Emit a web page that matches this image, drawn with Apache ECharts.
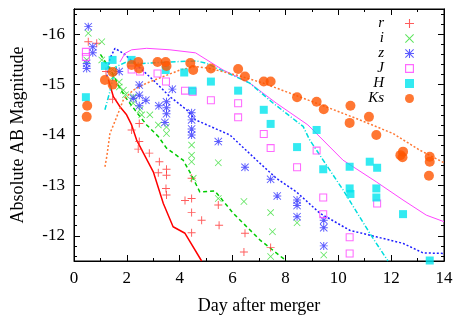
<!DOCTYPE html>
<html>
<head>
<meta charset="utf-8">
<script src="https://cdn.jsdelivr.net/npm/echarts@6/dist/echarts.min.js"></script>
<style>
  html, body { margin: 0; padding: 0; background: #fff; }
  #chart { width: 458px; height: 321px; }
</style>
</head>
<body>
<div id="chart"></div>
<script>
// observed points [day, mag]
const rPts = [[0.54,-15.85],[0.86,-15.82],[1.21,-15.26],[1.46,-14.71],[2.18,-14.1],[2.47,-14.23],[2.47,-13.87],[2.43,-13.72],[2.85,-13.64],[3.19,-13.25],[3.23,-13.47],[3.5,-13.32],[3.5,-13.2],[3.48,-12.94],[3.5,-12.81],[4.2,-12.7],[4.45,-13.14],[4.45,-12.74],[4.45,-12.46],[4.45,-12.06],[4.83,-12.31],[5.46,-12.61],[5.49,-12.21],[6.47,-12.05],[6.43,-11.68],[7.44,-11.77]];
const iPts = [[0.54,-16.02],[0.48,-15.49],[1.05,-15.85],[1.05,-15.49],[1.46,-15.3],[1.49,-15.16],[1.71,-15.05],[1.71,-14.95],[1.87,-14.89],[1.95,-14.8],[2.24,-14.76],[2.24,-14.63],[2.5,-14.5],[2.56,-14.4],[2.87,-14.4],[3.19,-14.2],[3.5,-14.16],[3.5,-14.03],[4.45,-13.8],[4.45,-13.6],[4.45,-13.47],[4.51,-13.14],[5.46,-13.45],[5.46,-12.74],[6.43,-12.68],[7.44,-12.46],[7.51,-12.08],[7.44,-11.59],[8.44,-12.26],[9.45,-11.62]];
const zPts = [[0.54,-16.15],[0.48,-15.42],[0.48,-15.32],[0.71,-15.75],[0.71,-15.63],[1.71,-15.26],[2.47,-14.99],[2.47,-14.79],[2.24,-14.73],[2.72,-14.69],[2.47,-14.58],[3.21,-14.58],[3.5,-14.66],[3.5,-14.54],[3.5,-14.42],[3.72,-14.91],[3.44,-14.25],[4.45,-14.44],[4.45,-14.3],[4.45,-14.12],[4.45,-14.0],[5.46,-13.87],[6.47,-13.36],[7.44,-13.12],[7.69,-12.79],[8.44,-12.71],[8.44,-12.6],[8.44,-12.38],[9.45,-12.31],[9.45,-12.16],[9.45,-11.8]];
const jPts = [[0.45,-15.65],[0.45,-15.55],[2.18,-15.3],[2.5,-15.26],[3.16,-15.22],[3.48,-15.06],[4.2,-14.88],[4.49,-14.86],[5.18,-14.69],[6.21,-14.63],[6.21,-14.35],[7.18,-14.02],[7.44,-13.74],[8.44,-13.36],[9.18,-13.69],[9.43,-12.76],[9.43,-12.43],[10.43,-11.97],[10.43,-11.65],[11.47,-12.64]];
const hPts = [[0.45,-14.75],[1.17,-15.37],[1.46,-15.49],[2.18,-15.49],[3.47,-15.29],[4.17,-15.24],[4.48,-14.88],[5.18,-15.06],[6.21,-14.88],[7.18,-14.5],[7.44,-14.22],[8.44,-13.76],[9.18,-14.1],[9.43,-13.32],[10.43,-13.37],[11.19,-13.47],[11.47,-13.35],[10.43,-12.94],[10.46,-12.83],[11.44,-12.94],[11.44,-12.76],[12.45,-12.43],[13.46,-11.51]];
const ksPts = [[0.5,-14.58],[0.48,-14.36],[1.17,-15.09],[1.46,-15.25],[1.46,-15.0],[2.18,-15.39],[2.43,-15.45],[2.46,-15.32],[3.16,-15.45],[3.47,-15.45],[3.5,-15.37],[4.4,-15.43],[4.51,-15.29],[5.18,-15.32],[6.21,-15.31],[6.47,-15.16],[7.18,-15.06],[7.44,-15.06],[8.44,-14.75],[9.18,-14.66],[9.45,-14.51],[10.46,-14.58],[10.43,-14.24],[11.16,-14.36],[11.44,-14.0],[12.35,-13.6],[12.45,-13.67],[12.43,-13.56],[13.46,-13.57],[13.46,-13.47],[13.43,-13.19]];

// model curves [day, mag]
const rModel = [[1.3,-15.1],[1.49,-14.76],[1.74,-14.56],[1.99,-14.4],[2.18,-14.2],[2.37,-13.9],[3.0,-13.27],[3.38,-12.64],[3.75,-12.18],[4.2,-12.05],[4.83,-11.5]];
const iModel = [[1.0,-15.6],[1.42,-15.26],[1.68,-14.99],[1.93,-14.76],[2.37,-14.45],[2.75,-14.2],[3.19,-13.97],[3.5,-13.74],[4.13,-13.5],[4.45,-13.2],[4.76,-12.87],[5.33,-12.89],[6.02,-12.45],[7.03,-11.92],[8.04,-11.5]];
const zModel = [[1.24,-15.16],[1.36,-15.52],[1.55,-15.72],[1.87,-15.62],[2.37,-15.39],[3.0,-15.09],[3.63,-14.76],[4.26,-14.5],[4.6,-14.3],[5.9,-14.0],[6.91,-13.5],[7.66,-13.14],[8.42,-12.87],[9.3,-12.45],[10.43,-12.11],[11.44,-11.98],[12.45,-11.85],[13.21,-11.66],[14,-11.65]];
const jModel = [[1.74,-15.45],[1.93,-15.62],[2.18,-15.69],[2.75,-15.72],[3.63,-15.69],[4.6,-15.63],[5.64,-15.29],[6.65,-15.03],[7.66,-14.63],[8.85,-14.2],[10.18,-13.5],[11.44,-13.07],[12.45,-12.71],[13.33,-12.41],[14,-12.28]];
const hModel = [[1.17,-14.5],[1.34,-14.83],[1.49,-15.16],[1.61,-15.36],[1.99,-15.45],[2.62,-15.42],[3.63,-15.45],[4.64,-15.47],[5.02,-15.42],[6.65,-15.03],[7.54,-14.63],[8.67,-14.17],[8.92,-13.9],[10.18,-12.91],[11.19,-12.05],[11.88,-11.5]];
const ksModel = [[1.17,-13.37],[1.24,-13.57],[1.36,-14.03],[1.61,-14.35],[1.87,-14.7],[2.24,-14.89],[2.75,-15.03],[3.38,-15.16],[4.01,-15.29],[4.6,-15.36],[5.14,-15.32],[6.15,-15.19],[7.16,-15.03],[8.17,-14.83],[9.18,-14.63],[10.18,-14.43],[10.81,-14.3],[12.07,-14.03],[13.08,-13.7],[14,-13.45]];

// axis ticks
const yLabels = [-16, -15, -14, -13, -12];
const yMinor = [-16.4,-16.2,-15.8,-15.6,-15.4,-15.2,-14.8,-14.6,-14.4,-14.2,-13.8,-13.6,-13.4,-13.2,-12.8,-12.6,-12.4,-12.2,-11.8,-11.6];

const FONT = "'Liberation Serif', 'DejaVu Serif', serif";
const plusPath = 'path://M4.4,0H5.6V4.4H10V5.6H5.6V10H4.4V5.6H0V4.4H4.4Z';
const crossPath = 'path://M0.8,0L5,4.2L9.2,0L10,0.8L5.8,5L10,9.2L9.2,10L5,5.8L0.8,10L0,9.2L4.2,5L0,0.8Z';
const starPath = 'path://M4.4,0H5.6V4.4H10V5.6H5.6V10H4.4V5.6H0V4.4H4.4ZM0.8,0L5,4.2L9.2,0L10,0.8L5.8,5L10,9.2L9.2,10L5,5.8L0.8,10L0,9.2L4.2,5L0,0.8Z';
// hollow square: outer clockwise, inner counter-clockwise
const boxPath = 'path://M0,0H10V10H0ZM1.3,1.3V8.7H8.7V1.3Z';

const chart = echarts.init(document.getElementById('chart'));

const xBase = (pos, showLabel) => ({
  type: 'value', position: pos, min: 0, max: 14, interval: 2,
  axisLine: { onZero: false, lineStyle: { color: '#000', width: 1 } },
  axisTick: { show: true, inside: true, length: 6, lineStyle: { color: '#000' } },
  minorTick: { show: true, splitNumber: 2, length: 3, lineStyle: { color: '#000' } },
  splitLine: { show: false },
  axisLabel: { show: showLabel, color: '#000', fontFamily: FONT, fontSize: 17, margin: 9 }
});

const yBase = (pos, ticks, len, showLabel) => ({
  type: 'value', position: pos, inverse: true, min: -16.5, max: -11.5,
  axisLine: { show: true, onZero: false, lineStyle: { color: '#000', width: 1 } },
  axisTick: { show: true, inside: true, length: len, customValues: ticks, lineStyle: { color: '#000' } },
  splitLine: { show: false },
  axisLabel: { show: showLabel, customValues: ticks, color: '#000', fontFamily: FONT, fontSize: 17, margin: 9 }
});

const xMain = xBase('bottom', true);
xMain.name = 'Day after merger';
xMain.nameLocation = 'middle';
xMain.nameGap = 36;
xMain.nameTextStyle = { color: '#000', fontFamily: FONT, fontSize: 18 };

const yMain = yBase('left', yLabels, 6, true);
yMain.name = 'Absolute AB Magnitude';
yMain.nameLocation = 'middle';
yMain.nameGap = 47;
yMain.nameTextStyle = { color: '#000', fontFamily: FONT, fontSize: 18 };

const pointSeries = (name, data, symbol, size, color) => ({
  name, type: 'scatter', data, symbol, symbolSize: size,
  itemStyle: { color }, z: 3
});

const lineSeries = (data, color, type, width) => ({
  type: 'line', data, showSymbol: false, symbol: 'none', smooth: false, clip: true,
  lineStyle: { color, type, width }, z: 2
});

chart.setOption({
  animation: false,
  backgroundColor: '#fff',
  grid: { left: 74, right: 14, top: 9, bottom: 60, show: true, borderColor: '#000', borderWidth: 1 },
  legend: {
    orient: 'vertical', right: 39, top: 11, align: 'right',
    itemWidth: 9, itemHeight: 9, itemGap: 0,
    textStyle: { fontFamily: FONT, fontStyle: 'italic', fontSize: 15, lineHeight: 15, color: '#000', padding: [0, 16, 0, 0] },
    data: ['r', 'i', 'z', 'J', 'H', 'Ks']
  },
  xAxis: [xMain, xBase('top', false)],
  yAxis: [
    yMain,
    yBase('left', yMinor, 3, false),
    yBase('right', yLabels, 6, false),
    yBase('right', yMinor, 3, false)
  ],
  series: [
    lineSeries(rModel, '#ff0000', 'solid', 1.5),
    lineSeries(iModel, '#00cc00', [4, 3], 1.5),
    lineSeries(zModel, '#2020ff', [2, 2], 1.5),
    lineSeries(jModel, '#ff44ff', 'solid', 1),
    lineSeries(hModel, '#00dddd', [5, 2, 1, 2], 1.5),
    lineSeries(ksModel, '#ff7733', [2, 2], 1.5),
    pointSeries('r', rPts, plusPath, 8, '#ff3333'),
    pointSeries('i', iPts, crossPath, 7, '#33dd33'),
    pointSeries('z', zPts, starPath, 8, '#3333ff'),
    pointSeries('J', jPts, boxPath, 8, '#ff44ff'),
    pointSeries('H', hPts, 'rect', 8, '#00e5ee'),
    pointSeries('Ks', ksPts, 'circle', 10, '#ff5500')
  ]
});
</script>
</body>
</html>
